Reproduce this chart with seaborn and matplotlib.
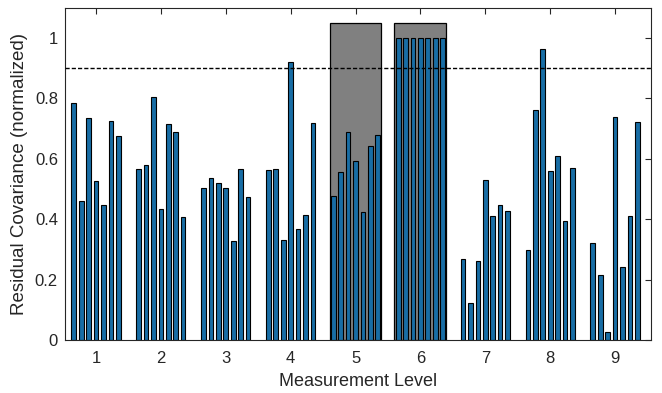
import numpy as np
import pandas as pd
import matplotlib
matplotlib.use("Agg")
import matplotlib.pyplot as plt
import seaborn as sns
from matplotlib.patches import Rectangle

levels = ["1", "2", "3", "4", "5", "6", "7", "8", "9"]
g1 = [0.786, 0.461, 0.736, 0.528, 0.448, 0.725, 0.675]
g2 = [0.566, 0.579, 0.806, 0.435, 0.715, 0.688, 0.407]
g3 = [0.502, 0.535, 0.519, 0.503, 0.327, 0.567, 0.475]
g4 = [0.564, 0.567, 0.331, 0.921, 0.366, 0.413, 0.720]
g5 = [0.476, 0.555, 0.688, 0.594, 0.423, 0.641, 0.678]
g6 = [1.0, 1.0, 1.0, 1.0, 1.0, 1.0, 1.0]
g7 = [0.267, 0.121, 0.260, 0.531, 0.411, 0.446, 0.427]
g8 = [0.298, 0.762, 0.965, 0.561, 0.609, 0.394, 0.568]
g9 = [0.322, 0.214, 0.026, 0.740, 0.241, 0.409, 0.721]
groups = [g1, g2, g3, g4, g5, g6, g7, g8, g9]
threshold = 0.9
highlight = ["5", "6"]
highlight_top = 1.05

rows = []
for lev, vals in zip(levels, groups):
    for k, v in enumerate(vals):
        rows.append({"level": lev, "bar": k, "value": v})
df = pd.DataFrame(rows)

sns.set_style("white")
plt.rcParams['font.family'] = ['Liberation Sans', 'DejaVu Sans']

fig = plt.figure(figsize=(6.62, 3.93), dpi=100)
ax = fig.add_axes([0.098, 0.135, 0.885, 0.845])

# grey boxes behind the flagged levels
for lev in highlight:
    i = levels.index(lev)
    ax.add_patch(Rectangle((i - 0.4, 0), 0.8, highlight_top, facecolor="#808080",
                           edgecolor="black", linewidth=0.9, zorder=0))

sns.barplot(data=df, x="level", y="value", hue="bar", order=levels,
            palette=["#0072BD"] * 7, width=0.8, gap=0.37, dodge=True,
            edgecolor="black", linewidth=0.8, legend=False, ax=ax, zorder=2)

ax.axhline(threshold, color="black", linestyle="--", linewidth=1, dashes=(3, 1.5), zorder=3)

ax.set_xlim(-0.48, 8.55)
ax.set_ylim(0, 1.1)
ax.set_yticks([0, 0.2, 0.4, 0.6, 0.8, 1.0])
ax.set_yticklabels(["0", "0.2", "0.4", "0.6", "0.8", "1"])
ax.set_xlabel("Measurement Level", fontsize=13, labelpad=5)
ax.set_ylabel("Residual Covariance (normalized)", fontsize=13.5, labelpad=5)
ax.tick_params(direction="in", length=4, width=0.8, labelsize=12,
               top=True, right=True, color="#262626", pad=5)
ax.tick_params(axis="x", pad=8)
for s in ax.spines.values():
    s.set_color("#262626")
    s.set_linewidth(0.8)

fig.savefig("out.png", dpi=100)
